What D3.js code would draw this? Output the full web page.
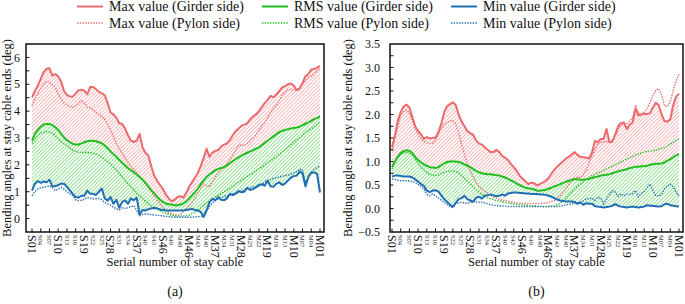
<!DOCTYPE html>
<html><head><meta charset="utf-8">
<script src="https://cdn.jsdelivr.net/npm/d3@7"></script>
<style>body{margin:0;background:#fff}svg{display:block;font-family:"Liberation Serif","Times New Roman",serif}</style>
</head><body><svg id="c" width="685" height="304"></svg>
<script>
// ---------- categories ----------
const cablesS = d3.range(1, 51).map(n => "S" + String(n).padStart(2, "0"));
const cablesM = d3.range(50, 0, -1).map(n => "M" + String(n).padStart(2, "0"));
const cables = cablesS.concat(cablesM);
const tickLabels = ["S01","S04","S07","S10","S13","S16","S19","S22","S25","S28","S31","S34","S37","S40","S43","S46","S49",
  "M49","M46","M43","M40","M37","M34","M31","M28","M25","M22","M19","M16","M13","M10","M07","M04","M01"];
const bigLabels = ["S01","S10","S19","S28","S37","S46","M46","M37","M28","M19","M10","M01"];
const yTicksA = [0,1,2,3,4,5,6];
const yTicksB = [-0.5,0,0.5,1,1.5,2,2.5,3,3.5];
const seriesNames = ["Max value (Girder side)","RMS value (Girder side)","Min value (Girder side)",
  "Max value (Pylon side)","RMS value (Pylon side)","Min value (Pylon side)"];

// ---------- (a) values ----------
const maxGirderA = [4.51,4.75,4.95,5.2,5.45,5.58,5.6,5.32,5.38,5.3,
 5.1,4.75,4.6,4.55,4.54,4.65,4.78,4.8,4.76,4.62,
 4.9,4.9,4.82,4.72,4.66,4.6,4.3,3.95,3.88,3.75,
 3.55,3.52,3.35,3.1,2.9,2.85,2.9,3.15,2.65,2.45,
 2.35,1.95,1.6,1.41,1.25,1.1,0.9,0.75,0.65,0.7,
 0.8,0.83,0.78,0.95,1.18,1.35,1.52,1.7,1.95,2.25,
 2.6,2.3,2.46,2.52,2.55,2.68,2.75,2.8,2.92,3.1,
 3.25,3.35,3.46,3.5,3.55,3.7,3.8,3.88,4.0,4.15,
 4.3,4.42,4.57,4.52,4.62,4.75,4.89,4.93,5.0,5.03,
 4.95,4.78,4.85,5.05,5.3,5.38,5.55,5.57,5.62,5.69];
const maxPylonA = [4.2,4.45,4.65,4.85,5.0,5.12,5.08,4.98,4.88,4.65,
 4.45,4.3,4.22,4.18,4.14,4.2,4.3,4.38,4.3,4.15,
 4.12,4.05,3.95,3.88,3.8,3.7,3.5,3.3,3.05,2.8,
 2.6,2.42,2.25,2.1,1.95,1.82,1.7,1.58,1.45,1.29,
 1.15,1.0,0.82,0.68,0.55,0.42,0.3,0.22,0.18,0.16,
 0.12,0.15,0.25,0.35,0.48,0.6,0.78,0.97,1.15,1.29,
 1.22,1.18,1.35,1.55,1.72,1.8,1.9,2.05,2.2,2.35,
 2.55,2.72,2.75,2.72,2.8,2.9,3.0,3.12,3.28,3.45,
 3.58,3.75,3.95,4.1,4.22,4.4,4.6,4.7,4.8,4.82,
 4.78,4.76,4.85,5.0,5.12,5.25,5.3,5.4,5.5,5.6];
const rmsGirderA = [2.9,3.15,3.3,3.42,3.5,3.52,3.52,3.48,3.4,3.3,
 3.15,3.02,2.92,2.85,2.78,2.76,2.76,2.8,2.84,2.88,
 2.9,2.9,2.88,2.85,2.8,2.72,2.62,2.5,2.4,2.3,
 2.18,2.08,1.98,1.88,1.8,1.72,1.64,1.55,1.45,1.33,
 1.2,1.06,0.94,0.82,0.7,0.62,0.56,0.53,0.52,0.5,
 0.5,0.52,0.56,0.64,0.75,0.86,0.98,1.12,1.28,1.42,
 1.55,1.65,1.72,1.8,1.85,1.88,1.92,1.98,2.06,2.14,
 2.22,2.28,2.34,2.4,2.45,2.5,2.55,2.6,2.65,2.73,
 2.82,2.9,2.98,3.06,3.14,3.22,3.27,3.3,3.33,3.35,
 3.37,3.39,3.42,3.48,3.53,3.58,3.64,3.7,3.75,3.8];
const rmsPylonA = [2.8,2.95,3.1,3.18,3.22,3.24,3.22,3.17,3.08,2.98,
 2.87,2.78,2.72,2.62,2.55,2.5,2.47,2.46,2.46,2.46,
 2.45,2.43,2.4,2.35,2.28,2.2,2.12,2.03,1.92,1.81,
 1.68,1.55,1.42,1.3,1.18,1.06,0.95,0.85,0.75,0.65,
 0.56,0.48,0.41,0.35,0.29,0.24,0.2,0.16,0.13,0.1,
 0.09,0.09,0.1,0.1,0.13,0.18,0.24,0.32,0.4,0.5,
 0.58,0.65,0.72,0.8,0.87,0.93,1.0,1.06,1.13,1.2,
 1.28,1.35,1.42,1.5,1.57,1.64,1.71,1.78,1.85,1.92,
 2.0,2.08,2.15,2.22,2.3,2.39,2.48,2.57,2.66,2.75,
 2.84,2.93,3.02,3.1,3.2,3.27,3.35,3.42,3.5,3.62];
const minGirderA = [1.04,1.3,1.4,1.33,1.38,1.35,1.45,1.2,1.2,1.25,
 1.3,1.3,1.18,1.05,0.92,0.8,0.78,0.85,0.85,1.04,
 0.92,0.92,0.88,1.0,1.12,0.75,0.67,0.8,0.55,0.7,
 0.4,0.62,0.68,0.55,0.75,0.68,0.78,0.15,0.32,0.3,
 0.35,0.38,0.39,0.38,0.34,0.32,0.3,0.3,0.3,0.3,
 0.3,0.3,0.3,0.32,0.34,0.36,0.32,0.3,0.25,0.06,
 0.3,0.6,0.73,0.68,0.8,0.7,0.68,0.75,0.92,0.88,
 0.92,1.03,0.98,1.0,1.15,1.06,1.1,1.16,1.25,1.28,
 1.22,1.42,1.2,1.18,1.3,1.35,1.25,1.3,1.42,1.52,
 1.58,1.6,1.75,1.68,1.2,1.55,1.7,1.72,1.66,0.97];
const minPylonA = [0.85,1.0,1.1,1.15,1.16,1.2,1.22,1.15,1.04,1.1,
 1.16,1.1,1.0,0.93,0.85,0.7,0.67,0.68,0.72,0.79,
 0.76,0.73,0.74,0.75,0.7,0.6,0.55,0.5,0.42,0.36,
 0.32,0.4,0.38,0.4,0.45,0.48,0.3,0.11,0.15,0.17,
 0.16,0.15,0.13,0.12,0.11,0.1,0.08,0.07,0.06,0.05,
 0.05,0.05,0.05,0.05,0.05,0.05,0.06,0.07,0.08,0.1,
 0.3,0.45,0.58,0.67,0.73,0.79,0.82,0.85,0.88,0.92,
 0.95,0.97,1.02,1.07,1.12,1.15,1.18,1.2,1.22,1.28,
 1.35,1.41,1.45,1.5,1.52,1.55,1.57,1.6,1.62,1.66,
 1.7,1.75,1.84,1.8,1.3,1.55,1.72,1.84,1.9,1.97];

// ---------- (b) values ----------
const maxGirderB = [1.3,1.55,1.87,2.05,2.17,2.21,2.15,1.95,1.75,1.65,
 1.58,1.48,1.52,1.49,1.5,1.51,1.62,1.8,2.05,2.18,
 2.22,2.26,2.2,2.0,1.85,1.75,1.65,1.6,1.57,1.45,
 1.38,1.36,1.3,1.25,1.2,1.2,1.25,1.2,1.12,1.08,
 1.03,0.95,0.88,0.8,0.7,0.64,0.58,0.52,0.55,0.54,
 0.49,0.52,0.55,0.59,0.65,0.74,0.82,0.89,0.95,1.0,
 1.06,1.1,1.15,1.2,1.14,1.1,1.09,1.08,1.07,1.19,
 1.44,1.41,1.48,1.48,1.69,1.41,1.42,1.58,1.75,1.82,
 1.83,1.69,1.78,1.83,2.12,1.98,2.0,2.01,2.01,2.03,
 2.15,2.25,2.2,2.0,1.86,1.85,1.9,2.2,2.38,2.44];
const maxPylonB = [1.23,1.5,1.75,1.98,2.06,2.09,2.03,1.88,1.7,1.58,
 1.48,1.43,1.4,1.38,1.39,1.45,1.58,1.7,1.78,1.83,
 1.86,1.87,1.8,1.62,1.35,1.15,0.95,0.8,0.68,0.55,
 0.47,0.42,0.37,0.32,0.28,0.24,0.22,0.2,0.18,0.17,
 0.16,0.14,0.13,0.12,0.12,0.11,0.11,0.11,0.11,0.11,
 0.11,0.11,0.11,0.12,0.13,0.15,0.17,0.22,0.27,0.35,
 0.43,0.52,0.59,0.65,0.66,0.66,0.72,0.82,0.98,1.1,
 1.25,1.38,1.41,1.42,1.42,1.43,1.45,1.55,1.68,1.76,
 1.79,1.8,1.86,1.93,2.2,2.03,2.02,2.05,2.12,2.26,
 2.4,2.52,2.55,2.42,2.18,2.17,2.28,2.5,2.72,2.86];
const rmsGirderB = [0.88,1.0,1.1,1.18,1.22,1.24,1.23,1.18,1.1,1.03,
 0.98,0.94,0.91,0.88,0.87,0.86,0.88,0.92,0.96,0.99,
 1.0,1.0,1.0,0.99,0.97,0.94,0.91,0.88,0.84,0.8,
 0.77,0.75,0.74,0.73,0.73,0.72,0.71,0.7,0.68,0.66,
 0.63,0.6,0.57,0.53,0.5,0.47,0.44,0.43,0.42,0.41,
 0.38,0.38,0.39,0.4,0.42,0.44,0.47,0.49,0.52,0.54,
 0.57,0.59,0.61,0.62,0.62,0.61,0.61,0.62,0.63,0.65,
 0.67,0.68,0.7,0.71,0.72,0.73,0.75,0.77,0.79,0.81,
 0.82,0.84,0.86,0.87,0.89,0.89,0.9,0.9,0.91,0.93,
 0.94,0.95,0.95,0.96,0.98,1.02,1.05,1.09,1.13,1.16];
const rmsPylonB = [0.84,0.98,1.08,1.15,1.18,1.2,1.18,1.14,1.05,0.96,
 0.88,0.82,0.77,0.73,0.71,0.7,0.71,0.74,0.77,0.79,
 0.8,0.8,0.79,0.76,0.7,0.64,0.58,0.52,0.46,0.4,
 0.35,0.3,0.26,0.23,0.21,0.19,0.17,0.16,0.14,0.13,
 0.12,0.11,0.1,0.09,0.08,0.08,0.07,0.07,0.06,0.06,
 0.05,0.05,0.04,0.04,0.05,0.05,0.06,0.08,0.11,0.17,
 0.22,0.29,0.35,0.42,0.48,0.52,0.57,0.62,0.66,0.7,
 0.73,0.76,0.78,0.81,0.84,0.87,0.9,0.93,0.96,0.99,
 1.02,1.05,1.08,1.11,1.14,1.16,1.18,1.2,1.22,1.22,
 1.23,1.24,1.26,1.28,1.3,1.33,1.37,1.41,1.45,1.48];
const minGirderB = [0.68,0.7,0.7,0.69,0.68,0.68,0.68,0.66,0.62,0.57,
 0.52,0.48,0.38,0.35,0.38,0.39,0.36,0.28,0.2,0.14,
 0.08,0.04,0.12,0.2,0.22,0.27,0.2,0.17,0.14,0.23,
 0.25,0.21,0.27,0.28,0.3,0.28,0.26,0.27,0.3,0.27,
 0.32,0.33,0.34,0.34,0.33,0.33,0.32,0.32,0.31,0.31,
 0.31,0.3,0.3,0.29,0.27,0.25,0.22,0.19,0.17,0.16,
 0.15,0.15,0.15,0.14,0.1,0.13,0.08,0.11,0.1,0.1,
 0.05,0.04,0.03,0.02,0.03,0.04,0.06,0.09,0.06,0.04,
 0.03,0.02,0.03,0.04,0.03,0.02,0.03,0.04,0.07,0.06,
 0.06,0.05,0.04,0.05,0.09,0.1,0.07,0.06,0.05,0.04];
const minPylonB = [0.63,0.62,0.6,0.59,0.59,0.59,0.59,0.57,0.55,0.51,
 0.47,0.41,0.3,0.27,0.31,0.27,0.22,0.18,0.13,0.08,
 0.04,0.02,0.1,0.12,0.13,0.12,0.11,0.13,0.15,0.14,
 0.13,0.13,0.12,0.1,0.08,0.07,0.06,0.06,0.05,0.05,
 0.04,0.04,0.04,0.04,0.04,0.04,0.04,0.04,0.04,0.04,
 0.04,0.04,0.04,0.04,0.04,0.04,0.04,0.04,0.05,0.06,
 0.08,0.09,0.1,0.11,0.12,0.13,0.16,0.2,0.21,0.22,
 0.17,0.24,0.22,0.1,0.2,0.3,0.38,0.35,0.26,0.31,
 0.27,0.31,0.3,0.32,0.38,0.25,0.32,0.36,0.45,0.52,
 0.38,0.28,0.26,0.3,0.42,0.48,0.52,0.46,0.35,0.27];

// ---------- drawing ----------
const RED = "#ec6a6c", GREEN = "#1fbf1f", BLUE = "#1f6fb2";
const svg = d3.select("#c");
const defs = svg.append("defs");
function hatch(id, color) {
  defs.append("pattern").attr("id", id).attr("patternUnits", "userSpaceOnUse")
    .attr("width", 2.6).attr("height", 2.6).attr("patternTransform", "rotate(45)")
    .append("line").attr("x1", 0).attr("y1", 0).attr("x2", 0).attr("y2", 2.6)
    .attr("stroke", color).attr("stroke-width", 1).attr("stroke-opacity", 0.9);
}
hatch("hRed", RED); hatch("hGreen", GREEN);

const panels = [
  { left: 26, right: 324, p0: 32, p1: 320, dom: [-0.5, 6.5], ticks: yTicksA, minorStep: 0.5, fmt: d3.format("d"), labelGap: 6,
    data: [maxGirderA, rmsGirderA, minGirderA, maxPylonA, rmsPylonA, minPylonA], tag: "(a)", titleX: 11 },
  { left: 390, right: 683, p0: 392, p1: 679, dom: [-0.5, 3.5], ticks: yTicksB, minorStep: 0.25, fmt: d3.format(".1f"), labelGap: 10,
    data: [maxGirderB, rmsGirderB, minGirderB, maxPylonB, rmsPylonB, minPylonB], tag: "(b)", titleX: 352 }
];
const plotTop = 44, plotBottom = 232;

panels.forEach((p, pi) => {
  const x = d3.scalePoint().domain(cables).range([p.p0, p.p1]);
  const y = d3.scaleLinear().domain(p.dom).range([plotBottom, plotTop]);
  const g = svg.append("g");
  const clipId = "clip" + pi;
  defs.append("clipPath").attr("id", clipId).append("rect")
    .attr("x", p.left).attr("y", plotTop).attr("width", p.right - p.left).attr("height", plotBottom - plotTop);
  const plot = g.append("g").attr("clip-path", `url(#${clipId})`);
  const [mxG, rmG, mnG, mxP, rmP, mnP] = p.data;
  const idx = d3.range(cables.length);
  const area = (hi, lo) => d3.area().x(i => x(cables[i])).y0(i => y(lo[i])).y1(i => y(hi[i]));
  plot.append("path").attr("d", area(mxG, rmG)(idx)).attr("fill", "url(#hRed)");
  plot.append("path").attr("d", area(rmG, mnG)(idx)).attr("fill", "url(#hGreen)");
  const line = arr => d3.line().x(i => x(cables[i])).y(i => y(arr[i]))(idx);
  [[mxP, RED], [rmP, GREEN], [mnP, BLUE]].forEach(([arr, c]) => {
    plot.append("path").attr("d", line(arr)).attr("fill", "none").attr("stroke", c)
      .attr("stroke-width", 1.4).attr("stroke-dasharray", "1.4,1.3");
  });
  [[mxG, RED], [rmG, GREEN], [mnG, BLUE]].forEach(([arr, c]) => {
    plot.append("path").attr("d", line(arr)).attr("fill", "none").attr("stroke", c)
      .attr("stroke-width", 2).attr("stroke-linejoin", "round");
  });
  // frame
  g.append("rect").attr("x", p.left).attr("y", plotTop).attr("width", p.right - p.left).attr("height", plotBottom - plotTop)
    .attr("fill", "none").attr("stroke", "#111").attr("stroke-width", 1.5);
  // y ticks (inward)
  const minor = d3.range(p.dom[0] + p.minorStep, p.dom[1] - 1e-9, p.minorStep);
  minor.forEach(v => g.append("line").attr("x1", p.left).attr("x2", p.left + 3.5)
    .attr("y1", y(v)).attr("y2", y(v)).attr("stroke", "#111").attr("stroke-width", 1));
  p.ticks.forEach(v => g.append("text").attr("x", p.left - p.labelGap).attr("y", y(v)).attr("dy", "0.35em")
    .attr("text-anchor", "end").attr("font-size", 12).attr("fill", "#111").text(p.fmt(v)));
  // x ticks (inward) and rotated labels
  tickLabels.forEach(t => {
    const xx = x(t);
    g.append("line").attr("x1", xx).attr("x2", xx).attr("y1", plotBottom).attr("y2", plotBottom - 3.5)
      .attr("stroke", "#111").attr("stroke-width", 1);
    const big = bigLabels.includes(t);
    g.append("text").attr("transform", `translate(${xx},${plotBottom + 3}) rotate(90)`)
      .attr("dy", "0.35em").attr("font-size", big ? 12 : 6.5).attr("fill", "#111").text(t);
  });
  // axis titles
  g.append("text").attr("transform", `translate(${p.titleX},${(plotTop + plotBottom) / 2}) rotate(-90)`)
    .attr("text-anchor", "middle").attr("font-size", 12.5).attr("fill", "#111")
    .text("Bending angles at stay cable ends (deg)");
  g.append("text").attr("x", (p.left + p.right) / 2).attr("y", 266).attr("text-anchor", "middle")
    .attr("font-size", 12.5).attr("fill", "#111").text("Serial number of stay cable");
  g.append("text").attr("x", (p.left + p.right) / 2).attr("y", 296).attr("text-anchor", "middle")
    .attr("font-size", 14).attr("fill", "#111").text(p.tag);
});

// legend
const legCols = [77, 262, 451];
const legColors = [RED, GREEN, BLUE];
const legend = svg.append("g");
seriesNames.forEach((name, k) => {
  const col = k % 3, row = Math.floor(k / 3);
  const lx = legCols[col], ly = row === 0 ? 6.5 : 23;
  legend.append("line").attr("x1", lx).attr("x2", lx + 26).attr("y1", ly).attr("y2", ly)
    .attr("stroke", legColors[col]).attr("stroke-width", row === 0 ? 2 : 1.4)
    .attr("stroke-dasharray", row === 0 ? null : "1.4,1.3");
  legend.append("text").attr("x", lx + 32).attr("y", ly).attr("dy", "0.35em")
    .attr("font-size", 14).attr("fill", "#111").text(name);
});
</script></body></html>
